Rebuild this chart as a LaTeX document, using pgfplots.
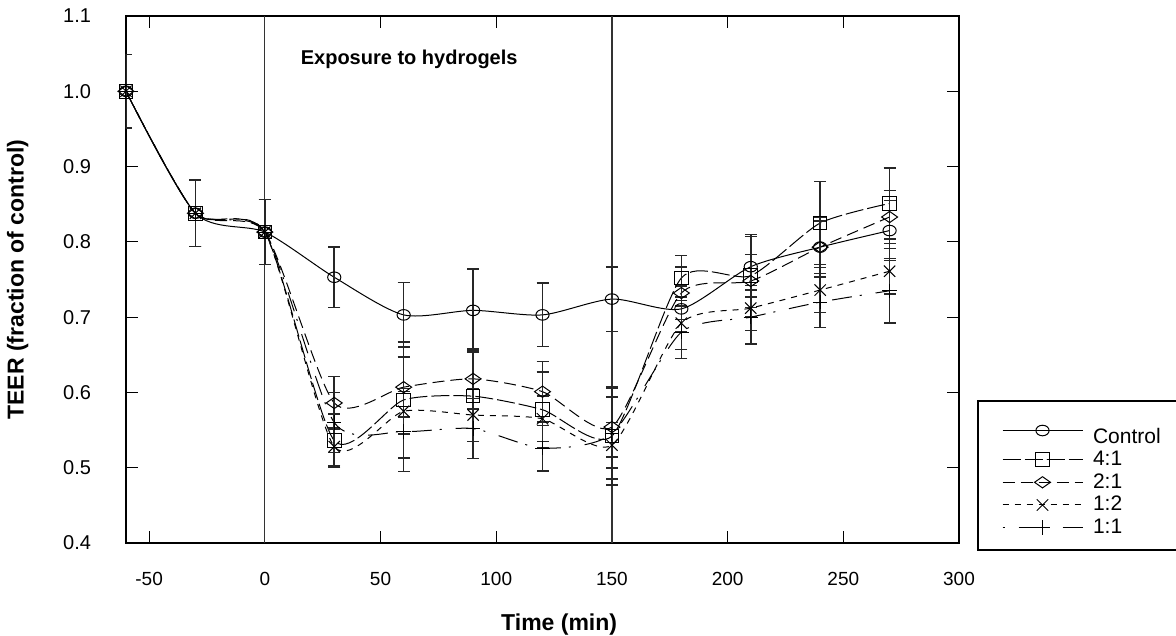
\documentclass[border=0pt]{standalone}
\usepackage{fontspec}
\setmainfont{Liberation Sans}
\usepackage{pgfplots}
\usepackage{pgfplotstable}
\pgfplotsset{compat=1.18}

% TEER, fraction of control: time (min), mean, error
\pgfplotstableread{
x y e
-60 1.000 0.049
-30 0.838 0.044
0 0.813 0.043
30 0.753 0.040
60 0.703 0.043
90 0.709 0.055
120 0.703 0.042
150 0.724 0.043
180 0.711 0.030
210 0.767 0.040
240 0.793 0.040
270 0.815 0.040
}\ctrl
\pgfplotstableread{
x y e
-60 1.000 0.049
-30 0.838 0.044
0 0.813 0.043
30 0.536 0.035
60 0.590 0.077
90 0.595 0.060
120 0.577 0.050
150 0.542 0.065
180 0.752 0.030
210 0.755 0.055
240 0.825 0.055
270 0.851 0.047
}\four
\pgfplotstableread{
x y e
-60 1.000 0.049
-30 0.838 0.044
0 0.813 0.043
30 0.586 0.035
60 0.607 0.040
90 0.618 0.040
120 0.601 0.040
150 0.554 0.040
180 0.732 0.035
210 0.748 0.035
240 0.793 0.035
270 0.833 0.035
}\two
\pgfplotstableread{
x y e
-60 1.000 0.049
-30 0.838 0.044
0 0.813 0.043
30 0.528 0.025
60 0.575 0.030
90 0.570 0.035
120 0.565 0.030
150 0.530 0.030
180 0.692 0.035
210 0.712 0.030
240 0.736 0.030
270 0.761 0.030
}\half
\pgfplotstableread{
x y e
-60 1.000 0.049
-30 0.838 0.044
0 0.813 0.043
30 0.560 0.040
60 0.548 0.053
90 0.552 0.040
120 0.526 0.030
150 0.545 0.060
180 0.680 0.035
210 0.700 0.036
240 0.720 0.034
270 0.735 0.043
}\one

\begin{document}
\begin{tikzpicture}
\useasboundingbox (-63pt,-46.5pt) rectangle (525pt,271.5pt);
\begin{axis}[
  at={(0,0)}, anchor=south west,
  scale only axis, width=416.5pt, height=263.5pt,
  xmin=-60, xmax=300, ymin=0.4, ymax=1.1,
  xtick={-50,0,50,100,150,200,250,300},
  ytick={0.4,0.5,0.6,0.7,0.8,0.9,1.0,1.1},
  yticklabel style={xshift=-14pt, font=\fontsize{10}{12}\selectfont,
    /pgf/number format/fixed, /pgf/number format/fixed zerofill, /pgf/number format/precision=1},
  /pgf/number format/assume math mode=true,
  xticklabel style={yshift=-11pt, font=\fontsize{9.5}{11}\selectfont},
  tick align=inside, major tick length=6pt,
  tick style={black, line width=0.6pt},
  axis line style={black, line width=0.6pt},
  xlabel={Time (min)}, ylabel={TEER (fraction of control)},
  label style={font=\bfseries\fontsize{11.5}{13}\selectfont},
  xlabel style={at={(axis description cs:0.52,-0.155)}, anchor=center},
  ylabel style={at={(axis description cs:-0.13,0.5)}, anchor=center},
  every axis plot/.append style={line width=0.5pt, black},
  error bars/error bar style={solid, line width=0.8pt, black!85},
  error bars/error mark options={rotate=90, mark size=3pt, solid, line width=0.8pt, black!85},
  legend image code/.code={\path (-4pt,0pt) (43pt,0pt);
    \draw[mark repeat=2, mark phase=2, #1] plot coordinates {(0pt,0pt) (20pt,0pt) (40pt,0pt)};},
  legend style={at={(axis description cs:1.0216,0.2713)}, anchor=north west,
    draw=black, line width=1pt, font=\fontsize{10.5}{12}\selectfont,
    inner xsep=8pt, inner ysep=5pt, row sep=-1.5pt},
  legend cell align=left,
]
\addplot[black!80, line width=0.6pt, forget plot] coordinates {(0,0.4) (0,1.1)};
\addplot[black!80, line width=0.6pt, forget plot] coordinates {(150,0.4) (150,1.1)};

\addplot[smooth, tension=0.45, mark=o, mark size=3.3pt, mark options={solid, yscale=0.8},
  error bars/.cd, y dir=both, y explicit] table[x=x, y=y, y error=e] {\ctrl};
\addplot[smooth, tension=0.4, dash pattern=on 9pt off 2pt, mark=square, mark size=3.4pt, mark options={solid},
  error bars/.cd, y dir=both, y explicit] table[x=x, y=y, y error=e] {\four};
\addplot[smooth, tension=0.4, dash pattern=on 6pt off 3pt, mark=diamond, mark size=2.8pt, mark options={solid, xscale=1.9},
  error bars/.cd, y dir=both, y explicit] table[x=x, y=y, y error=e] {\two};
\addplot[smooth, tension=0.4, dash pattern=on 3pt off 3pt, mark=x, mark size=4pt, mark options={solid},
  error bars/.cd, y dir=both, y explicit] table[x=x, y=y, y error=e] {\half};
\addplot[smooth, tension=0.4, dash pattern=on 1pt off 7pt on 10pt off 4pt, mark=+, mark size=3.6pt, mark options={solid},
  error bars/.cd, y dir=both, y explicit] table[x=x, y=y, y error=e] {\one};
\legend{\rule{0pt}{14pt}\makebox[52pt][l]{Control}, 4:1, 2:1, 1:2, 1:1}

\node[anchor=west, font=\bfseries\fontsize{10}{12}\selectfont] at (axis cs:12.5,1.042) {Exposure to hydrogels};
\end{axis}
\end{tikzpicture}
\end{document}
